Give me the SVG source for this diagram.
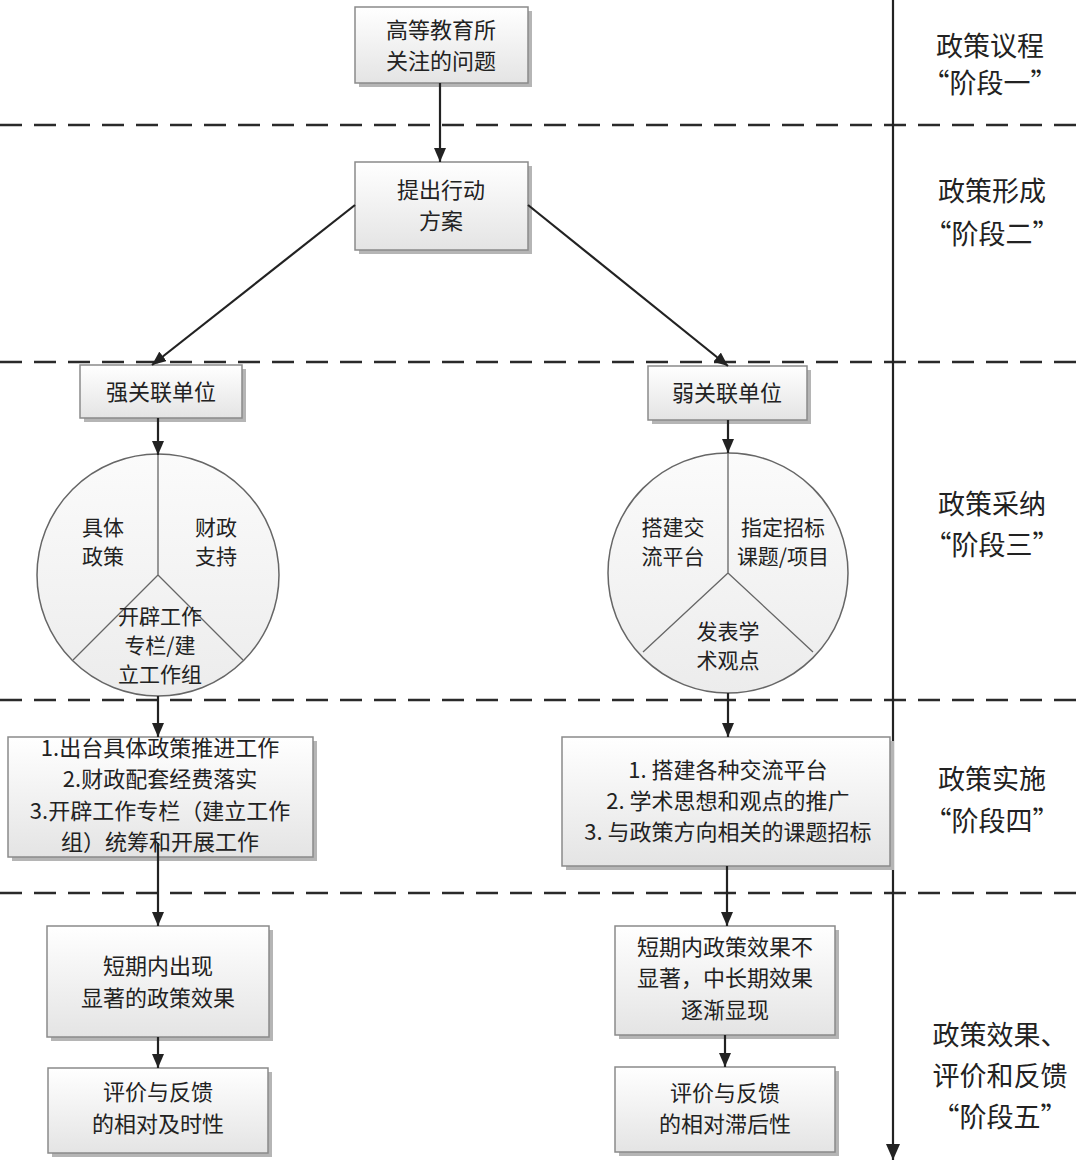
<svg xmlns="http://www.w3.org/2000/svg" width="1080" height="1170" viewBox="0 0 1080 1170">
<defs>
<linearGradient id="gbox" x1="0" y1="0" x2="0" y2="1">
<stop offset="0" stop-color="#ffffff"/>
<stop offset="1" stop-color="#e4e4e4"/>
</linearGradient>
<linearGradient id="gcir" x1="0" y1="0" x2="0" y2="1">
<stop offset="0" stop-color="#fbfbfb"/>
<stop offset="1" stop-color="#ececec"/>
</linearGradient>
<marker id="ah" viewBox="0 0 14 12" refX="14" refY="6" markerWidth="14" markerHeight="12" markerUnits="userSpaceOnUse" orient="auto">
<path d="M0,0 L14,6 L0,12 z" fill="#222"/>
</marker>
<marker id="ahb" viewBox="0 0 16 14" refX="16" refY="7" markerWidth="16" markerHeight="14" markerUnits="userSpaceOnUse" orient="auto">
<path d="M0,0 L16,7 L0,14 z" fill="#222"/>
</marker>
</defs>
<style>
.box{fill:url(#gbox);stroke:#8a8a8a;stroke-width:1.5}
.sh{fill:#b5b5b5}
.t{font-family:"Noto Sans CJK SC","Noto Sans",sans-serif;font-size:22px;fill:#222;text-anchor:middle}
.ct{font-family:"Noto Sans CJK SC","Noto Sans",sans-serif;font-size:21px;fill:#222;text-anchor:middle}
.st{font-family:"Noto Sans CJK SC","Noto Sans",sans-serif;font-size:27px;fill:#222;text-anchor:middle}
.dash{stroke:#2a2a2a;stroke-width:2.5;stroke-dasharray:22 12;fill:none}
.con{stroke:#222;stroke-width:2.2;fill:none;marker-end:url(#ah)}
.cir{fill:url(#gcir);stroke:#666;stroke-width:1.5}
.div{stroke:#666;stroke-width:1.3;fill:none}
</style>
<rect width="1080" height="1170" fill="#ffffff"/>

<g id="separators">
<line class="dash" x1="0" y1="125" x2="1080" y2="125"/>
<line class="dash" x1="0" y1="362" x2="1080" y2="362"/>
<line class="dash" x1="0" y1="700" x2="1080" y2="700"/>
<line class="dash" x1="0" y1="893" x2="1080" y2="893"/>
</g>

<g id="timeline">
<line x1="893" y1="0" x2="893" y2="1160" stroke="#222" stroke-width="2.2" marker-end="url(#ahb)"/>
</g>

<g id="stage-labels">
<text class="st" x="990" y="56">政策议程</text>
<text class="st" x="990" y="93">“阶段一”</text>
<text class="st" x="992" y="201">政策形成</text>
<text class="st" x="992" y="244">“阶段二”</text>
<text class="st" x="992" y="514">政策采纳</text>
<text class="st" x="992" y="555">“阶段三”</text>
<text class="st" x="992" y="789">政策实施</text>
<text class="st" x="992" y="831">“阶段四”</text>
<text class="st" x="1000" y="1045">政策效果、</text>
<text class="st" x="1000" y="1086">评价和反馈</text>
<text class="st" x="1000" y="1127">“阶段五”</text>
</g>

<g id="n1">
<rect class="sh" x="359" y="11" width="173" height="76"/>
<rect class="box" x="355" y="7" width="173" height="76"/>
<text class="t" x="441" y="38">高等教育所</text>
<text class="t" x="441" y="69">关注的问题</text>
</g>

<g id="n2">
<rect class="sh" x="359" y="166" width="173" height="88"/>
<rect class="box" x="355" y="162" width="173" height="88"/>
<text class="t" x="441" y="198">提出行动</text>
<text class="t" x="441" y="229">方案</text>
</g>

<g id="n-strong">
<rect class="sh" x="84" y="369" width="162" height="53"/>
<rect class="box" x="80" y="365" width="162" height="53"/>
<text class="t" x="161" y="400">强关联单位</text>
</g>

<g id="n-weak">
<rect class="sh" x="652" y="370" width="159" height="54"/>
<rect class="box" x="648" y="366" width="159" height="54"/>
<text class="t" x="727" y="401">弱关联单位</text>
</g>

<g id="c-left">
<circle class="cir" cx="158" cy="575" r="121"/>
<path class="div" d="M158,454 L158,575 M158,575 L73,660 M158,575 L243,660"/>
<text class="ct" x="103" y="535">具体</text>
<text class="ct" x="103" y="564">政策</text>
<text class="ct" x="216" y="535">财政</text>
<text class="ct" x="216" y="564">支持</text>
<text class="ct" x="160" y="624">开辟工作</text>
<text class="ct" x="160" y="653">专栏/建</text>
<text class="ct" x="160" y="682">立工作组</text>
</g>

<g id="c-right">
<circle class="cir" cx="728" cy="573" r="120"/>
<path class="div" d="M728,453 L728,573 M728,573 L643,652 M728,573 L813,652"/>
<text class="ct" x="673" y="535">搭建交</text>
<text class="ct" x="673" y="564">流平台</text>
<text class="ct" x="783" y="535">指定招标</text>
<text class="ct" x="783" y="564">课题/项目</text>
<text class="ct" x="728" y="639">发表学</text>
<text class="ct" x="728" y="668">术观点</text>
</g>

<g id="n-impl-left">
<rect class="sh" x="12" y="741" width="305" height="120"/>
<rect class="box" x="8" y="737" width="305" height="120"/>
<text class="t" x="160" y="756">1.出台具体政策推进工作</text>
<text class="t" x="160" y="787">2.财政配套经费落实</text>
<text class="t" x="160" y="819">3.开辟工作专栏（建立工作</text>
<text class="t" x="160" y="850">组）统筹和开展工作</text>
</g>

<g id="n-impl-right">
<rect class="sh" x="566" y="741" width="328" height="129"/>
<rect class="box" x="562" y="737" width="328" height="129"/>
<text class="t" x="728" y="778">1.  搭建各种交流平台</text>
<text class="t" x="728" y="809">2. 学术思想和观点的推广</text>
<text class="t" x="728" y="840">3. 与政策方向相关的课题招标</text>
</g>

<g id="n-eff-left">
<rect class="sh" x="51" y="930" width="222" height="111"/>
<rect class="box" x="47" y="926" width="222" height="111"/>
<text class="t" x="158" y="974">短期内出现</text>
<text class="t" x="158" y="1006">显著的政策效果</text>
</g>

<g id="n-fb-left">
<rect class="sh" x="52" y="1072" width="220" height="85"/>
<rect class="box" x="48" y="1068" width="220" height="85"/>
<text class="t" x="158" y="1100">评价与反馈</text>
<text class="t" x="158" y="1132">的相对及时性</text>
</g>

<g id="n-eff-right">
<rect class="sh" x="619" y="930" width="220" height="109"/>
<rect class="box" x="615" y="926" width="220" height="109"/>
<text class="t" x="725" y="955">短期内政策效果不</text>
<text class="t" x="725" y="986">显著，中长期效果</text>
<text class="t" x="725" y="1018">逐渐显现</text>
</g>

<g id="n-fb-right">
<rect class="sh" x="619" y="1071" width="220" height="85"/>
<rect class="box" x="615" y="1067" width="220" height="85"/>
<text class="t" x="725" y="1101">评价与反馈</text>
<text class="t" x="725" y="1132">的相对滞后性</text>
</g>

<g id="connectors">
<line class="con" x1="440" y1="83" x2="440" y2="162"/>
<line class="con" x1="355" y1="205" x2="152" y2="365"/>
<line class="con" x1="528" y1="205" x2="728" y2="366"/>
<line class="con" x1="158" y1="418" x2="158" y2="455"/>
<line class="con" x1="728" y1="420" x2="728" y2="453"/>
<line class="con" x1="158" y1="696" x2="158" y2="737"/>
<line class="con" x1="728" y1="693" x2="728" y2="737"/>
<line class="con" x1="158" y1="843" x2="158" y2="926"/>
<line class="con" x1="727" y1="866" x2="727" y2="926"/>
<line class="con" x1="158" y1="1037" x2="158" y2="1068"/>
<line class="con" x1="725" y1="1035" x2="725" y2="1067"/>
</g>
</svg>
